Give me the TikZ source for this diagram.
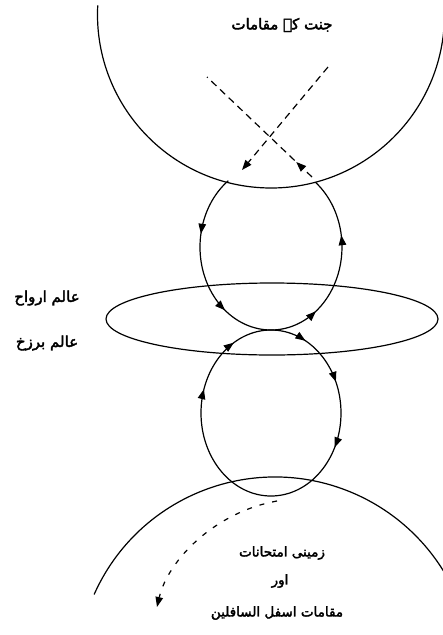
\documentclass[tikz,border=0pt]{standalone}
\usepackage{fontspec}
\newfontfamily\urdu[Script=Arabic,FakeBold=2.5]{DejaVu Sans}
\TeXXeTstate=1
\usetikzlibrary{arrows.meta,decorations.markings}
\begin{document}
\begin{tikzpicture}[x=1pt,y=-1pt,
  >={Triangle[length=10pt,width=7.5pt]},
  curve/.style={line width=1.2pt},
  dsh/.style={line width=1.2pt,dash pattern=on 7pt off 5pt},
  dsh2/.style={line width=1.2pt,dash pattern=on 5pt off 8pt},
  txt/.style={font=\urdu\fontsize{15}{17}\selectfont,inner sep=0pt},
  txts/.style={font=\urdu\fontsize{13.5}{15}\selectfont,inner sep=0pt}]
\useasboundingbox (0,0) rectangle (443,635);
\clip (0,0) rectangle (443,635);
% big upper circle (heaven)
\draw[curve] (271,14.5) ++(183:173.5) arc[start angle=183,end angle=3,radius=173.5];
% big lower circle
\draw[curve] (275,675) ++(-156:198) arc[start angle=-156,end angle=-22,radius=198];
% wide ellipse
\draw[curve] (272,319) ellipse[x radius=166,y radius=36];
% upper small loop
\draw[curve,postaction={decorate},decoration={markings,
   mark=at position 0.157 with {\arrow{>}},
   mark=at position 0.371 with {\arrow{>}},
   mark=at position 0.632 with {\arrow{>}},
   mark=at position 0.846 with {\arrow{>}}}]
  (271,247) ++(233:71 and 83) arc[start angle=233,end angle=-51,x radius=71,y radius=83];
% lower small loop
\draw[curve,postaction={decorate},decoration={markings,
   mark=at position 0.30 with {\arrow{>}},
   mark=at position 0.417 with {\arrow{>}},
   mark=at position 0.576 with {\arrow{>}},
   mark=at position 0.684 with {\arrow{>}},
   mark=at position 0.823 with {\arrow{>}}}]
  (271,413) ++(90:70 and 83) arc[start angle=90,end angle=450,x radius=70,y radius=83];
% dashed crossing lines
\coordinate (a1) at (328,67);
\coordinate (a2) at (242,170);
\coordinate (b1) at (312,177);
\coordinate (b2) at (207,77);
\draw[dsh,->] (a1) -- (a2);
\draw[dsh,postaction={decorate},decoration={markings,mark=at position 0.15 with {\arrow{>}}}] (b1) -- (b2);
% dashed descent
\coordinate (c1) at (277,501);
\coordinate (c2) at (157,607);
\draw[dsh2,->] (c1) .. controls (215,512) and (168,560) .. (c2);
% texts
\node[txt] (jannat) at (282,25) {\beginR جنت کے مقامات\endR};
\node[txt] (arwah) at (47,298) {\beginR عالم ارواح\endR};
\node[txt] (barzakh) at (47,343) {\beginR عالم برزخ\endR};
\node[txts] (zamini) at (282,553) {\beginR زمینی امتحانات\endR};
\node[txts] (aur) at (280,581) {\beginR اور\endR};
\node[txts] (asfal) at (277,613) {\beginR مقامات اسفل السافلین\endR};
\end{tikzpicture}
\end{document}
